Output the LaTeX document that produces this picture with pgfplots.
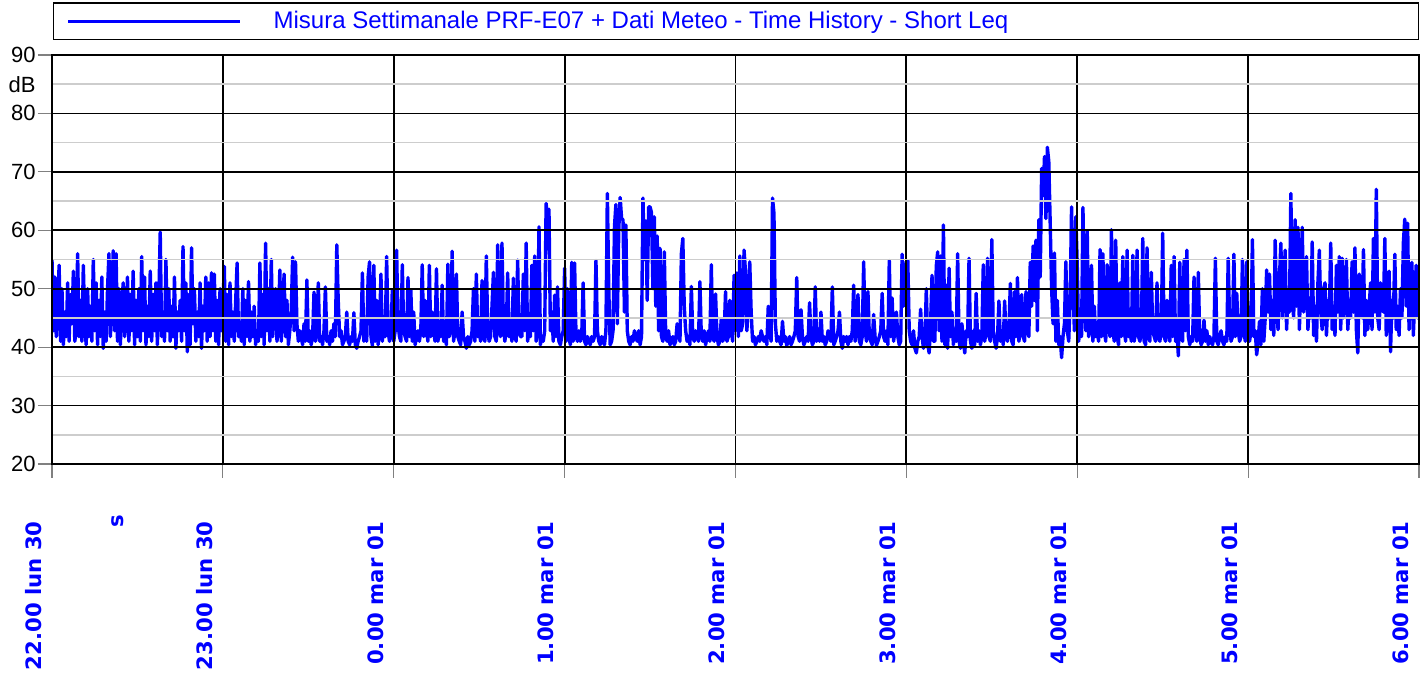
\documentclass[border=0pt]{standalone}
\usepackage{fontspec}
\setmainfont{Liberation Sans}
\newfontfamily\dvb{DejaVu Sans}
\usepackage{pgfplots}
\usepackage{pgfplotstable}
\pgfplotsset{compat=1.18}
\definecolor{rblue}{RGB}{0,0,255}
\definecolor{gridgray}{RGB}{205,205,205}

\pgfplotstableread[row sep=\\]{
y\\
55\\ 42.8\\ 52\\ 41.8\\ 47\\ 54\\ 41\\ 50\\ 40.4\\ 46\\
41.8\\ 51\\ 41\\ 49\\ 44\\ 53\\ 41\\ 42.8\\ 56\\ 41.8\\
48\\ 41\\ 54\\ 44\\ 40.4\\ 50\\ 41.8\\ 47\\ 41\\ 55\\
42.8\\ 51\\ 40.4\\ 48\\ 41.8\\ 52\\ 39.8\\ 46\\ 41\\ 50\\
56\\ 41.8\\ 48\\ 56.5\\ 42.8\\ 56\\ 41\\ 50\\ 40.4\\ 47\\
51\\ 41.8\\ 44\\ 52\\ 41\\ 49\\ 42.8\\ 53\\ 40.4\\ 48\\
41.8\\ 50\\ 41\\ 55.5\\ 42.8\\ 52\\ 40.4\\ 47\\ 41.8\\ 53\\
41\\ 49\\ 42.8\\ 51\\ 40.4\\ 48\\ 59.7\\ 41.8\\ 46\\ 41\\
55\\ 42.8\\ 50\\ 41\\ 47\\ 41.8\\ 52\\ 39.8\\ 46\\ 42.8\\
48\\ 41\\ 57.2\\ 42.8\\ 51\\ 39.2\\ 49\\ 40.4\\ 57\\ 44\\
50\\ 41\\ 46\\ 41.8\\ 51\\ 39.8\\ 47\\ 42.8\\ 52\\ 41\\
51\\ 41.8\\ 52.7\\ 42.8\\ 52.5\\ 41\\ 48\\ 40.4\\ 50\\ 42.8\\
47\\ 53.8\\ 41\\ 49\\ 40.4\\ 51\\ 41.8\\ 46\\ 41\\ 48\\
54.4\\ 41.8\\ 44\\ 41\\ 50\\ 40.4\\ 48\\ 41.8\\ 51.2\\ 41\\
46\\ 41.8\\ 47\\ 40.4\\ 42.8\\ 41\\ 54.4\\ 41.8\\ 49\\ 40.4\\
57.8\\ 42.8\\ 50\\ 41\\ 55\\ 41.8\\ 47\\ 50\\ 41\\ 44\\
53.2\\ 41\\ 47\\ 52.5\\ 41.8\\ 48\\ 40.4\\ 42.8\\ 46\\ 55.4\\
42.8\\ 54.6\\ 44\\ 41\\ 42.8\\ 41.8\\ 40.4\\ 44\\ 41\\ 51.5\\
41\\ 42.8\\ 40.4\\ 41.8\\ 49.4\\ 41\\ 42.8\\ 51\\ 41\\ 41.8\\
40.4\\ 42.8\\ 50.3\\ 41\\ 41.8\\ 40.4\\ 42.8\\ 41\\ 44\\ 41.8\\
57.5\\ 48\\ 41.8\\ 42.8\\ 40.4\\ 41\\ 41.8\\ 46\\ 41\\ 40.4\\
41.8\\ 41\\ 45.9\\ 40.4\\ 39.8\\ 41\\ 41.8\\ 42.8\\ 52.7\\ 41\\
44\\ 41\\ 52\\ 54.6\\ 41.8\\ 40.3\\ 54\\ 41\\ 48\\ 40.4\\
42.8\\ 52.5\\ 41\\ 44\\ 41.8\\ 55.5\\ 42.8\\ 41\\ 41.8\\ 49.8\\
41\\ 42.8\\ 56.6\\ 44\\ 41.8\\ 41\\ 54.1\\ 42.8\\ 41.8\\ 41\\
51.9\\ 41.8\\ 49.8\\ 41\\ 46\\ 40.4\\ 41.8\\ 42.8\\ 41\\ 42.8\\
54.1\\ 41.8\\ 48\\ 42.8\\ 41\\ 54\\ 41.8\\ 46\\ 42.8\\ 41\\
53.4\\ 41\\ 42.8\\ 41.8\\ 50.6\\ 41\\ 41.8\\ 40.4\\ 54.2\\ 41.8\\
42.8\\ 56.4\\ 41\\ 42.8\\ 52.5\\ 41.8\\ 41\\ 40.4\\ 46\\ 41.8\\
41\\ 39.8\\ 41.8\\ 40.4\\ 41\\ 42.8\\ 50\\ 41\\ 52.5\\ 41.8\\
42.8\\ 41\\ 51.4\\ 41.8\\ 41\\ 55.6\\ 42.8\\ 41\\ 41.8\\ 47\\
52.8\\ 41.8\\ 41\\ 57.5\\ 42.8\\ 41.8\\ 57.8\\ 44\\ 41\\ 42.8\\
52.7\\ 41.8\\ 42.8\\ 41\\ 51.8\\ 41.8\\ 41\\ 54.9\\ 42.8\\ 41.8\\
41.8\\ 52.5\\ 42.8\\ 57.8\\ 41\\ 42.8\\ 41.8\\ 54\\ 42.8\\ 55.6\\
41\\ 42.8\\ 60.6\\ 40.4\\ 41.8\\ 41\\ 42.8\\ 64.6\\ 62\\ 63.6\\
42.8\\ 46\\ 41\\ 48.9\\ 41.8\\ 50.3\\ 41\\ 40.4\\ 41.8\\ 42.8\\
53.5\\ 41\\ 50\\ 41.8\\ 40.4\\ 54.5\\ 41\\ 54.4\\ 41.8\\ 41\\
42.8\\ 41\\ 41.8\\ 51\\ 41\\ 40.4\\ 41.8\\ 41\\ 40.4\\ 41.8\\
41\\ 41.8\\ 54.8\\ 42.8\\ 41\\ 40.4\\ 41.8\\ 41\\ 40.4\\ 42.8\\
66.3\\ 50\\ 40.4\\ 41\\ 42.8\\ 60.6\\ 64.4\\ 44\\ 60\\ 65.6\\
62\\ 61.8\\ 46\\ 60.9\\ 42.8\\ 41\\ 40.4\\ 41.8\\ 41\\ 42.8\\
41.8\\ 41\\ 42.8\\ 40.4\\ 41.8\\ 65.5\\ 55\\ 61.6\\ 48\\ 64\\
64\\ 63\\ 50\\ 62.3\\ 47\\ 59\\ 42.8\\ 56.9\\ 41.8\\ 41\\
56.3\\ 41.8\\ 41\\ 42.8\\ 40.4\\ 41\\ 41.8\\ 40.4\\ 41\\ 44\\
42.8\\ 41\\ 56\\ 58.6\\ 47\\ 42.8\\ 41\\ 41.8\\ 40.4\\ 50.4\\
41.8\\ 41\\ 42.8\\ 41.8\\ 41\\ 51.2\\ 41.8\\ 41\\ 42.8\\ 40.4\\
41.8\\ 42.8\\ 41\\ 54.1\\ 41.8\\ 41\\ 49.1\\ 41.8\\ 40.4\\ 41\\
44.8\\ 41\\ 41.8\\ 49.5\\ 41\\ 41.8\\ 48\\ 42.8\\ 41\\ 52.3\\
42.8\\ 52.7\\ 41.8\\ 55.6\\ 42.8\\ 44\\ 56.6\\ 53\\ 42.8\\ 48\\
54.6\\ 45.9\\ 41\\ 41.8\\ 40.4\\ 41\\ 41.8\\ 41\\ 42.8\\ 41.8\\
41\\ 41.8\\ 40.4\\ 47\\ 42.8\\ 41\\ 65.5\\ 62.9\\ 44\\ 41\\
41.8\\ 41\\ 40.4\\ 44.4\\ 41\\ 41.8\\ 40.3\\ 41\\ 41.8\\ 40.4\\
41\\ 41.8\\ 42.8\\ 51.9\\ 41.8\\ 41\\ 46.4\\ 41.8\\ 40.4\\ 41\\
41.8\\ 41\\ 47.6\\ 41.8\\ 40.4\\ 41\\ 50.3\\ 41\\ 42.8\\ 41\\
46\\ 41\\ 41.8\\ 40.4\\ 41\\ 42.8\\ 41.8\\ 41\\ 50.3\\ 40.4\\
41\\ 41.8\\ 42.8\\ 46\\ 41\\ 39.8\\ 41.8\\ 41\\ 41.8\\ 40.4\\
41.8\\ 41\\ 42.8\\ 50.6\\ 41\\ 42.8\\ 49\\ 41\\ 40.4\\ 41.8\\
54.6\\ 42.8\\ 41\\ 49.5\\ 41.8\\ 41\\ 40.4\\ 45.6\\ 41.8\\ 40.3\\
41\\ 41.8\\ 42.8\\ 49.2\\ 41.8\\ 41\\ 42.8\\ 40.4\\ 54.8\\ 41.8\\
48.4\\ 41\\ 42.8\\ 46\\ 41.8\\ 40.4\\ 41\\ 55.9\\ 47\\ 53\\
54.6\\ 54.8\\ 42.8\\ 41\\ 40.4\\ 42.8\\ 39.8\\ 39\\ 41\\ 41.8\\
46.5\\ 41.8\\ 39.8\\ 41\\ 50\\ 40.4\\ 39\\ 44\\ 52.3\\ 41\\
41\\ 53.9\\ 56.3\\ 42.8\\ 55.6\\ 41\\ 60.9\\ 40.4\\ 50.6\\ 39.8\\
53.5\\ 41.8\\ 46\\ 40.4\\ 42.8\\ 41\\ 56\\ 41\\ 39.8\\ 44\\
41\\ 39\\ 42.8\\ 41.8\\ 55.2\\ 41\\ 39.8\\ 42.8\\ 40.4\\ 49.2\\
41\\ 42.8\\ 40.4\\ 41.8\\ 54.1\\ 41\\ 42.8\\ 55.2\\ 41.8\\ 41\\
58.4\\ 42.8\\ 41\\ 39.8\\ 41.8\\ 47.9\\ 41\\ 42.8\\ 40.4\\ 47.9\\
41.8\\ 41\\ 42.8\\ 50.9\\ 41\\ 40.4\\ 49.5\\ 41.8\\ 51.9\\ 41\\
42.8\\ 49\\ 41.8\\ 41\\ 49.5\\ 42.8\\ 41.8\\ 54.5\\ 47\\ 57.3\\
48\\ 58.3\\ 42.8\\ 61.8\\ 52\\ 70.6\\ 66\\ 72.6\\ 62\\ 74.2\\
71.8\\ 61.2\\ 50\\ 44\\ 56.1\\ 41\\ 48\\ 40.4\\ 41.8\\ 38.2\\
41.8\\ 44\\ 54.6\\ 42.8\\ 41\\ 48\\ 64\\ 50\\ 42.8\\ 62.3\\
54\\ 41\\ 44\\ 41.8\\ 63.9\\ 48\\ 42.8\\ 59.8\\ 41.8\\ 42.8\\
54\\ 41\\ 47\\ 41.8\\ 42.8\\ 41\\ 56.7\\ 41.8\\ 56\\ 42.8\\
41\\ 54.1\\ 44\\ 41.8\\ 60.1\\ 42.8\\ 41\\ 58.3\\ 41.8\\ 40.4\\
51\\ 41.8\\ 55.5\\ 42.8\\ 41\\ 56.6\\ 41.8\\ 42.8\\ 41\\ 55.7\\
41\\ 42.8\\ 56.6\\ 41.8\\ 41\\ 42.8\\ 58.6\\ 41\\ 40.4\\ 57\\
41.8\\ 41\\ 52.8\\ 42.8\\ 41.8\\ 41\\ 51\\ 41.8\\ 41\\ 42.8\\
59.5\\ 41.8\\ 41\\ 48\\ 42.8\\ 41\\ 54\\ 41.8\\ 55.5\\ 41\\
42.8\\ 38.5\\ 54.5\\ 41.8\\ 41\\ 55\\ 42.8\\ 56.6\\ 41.8\\ 40.4\\
41.8\\ 41\\ 52\\ 42.8\\ 41\\ 52.8\\ 41.8\\ 40.4\\ 41\\ 44.6\\
41\\ 42.8\\ 40.4\\ 41.8\\ 41\\ 40.4\\ 41.8\\ 55.2\\ 41\\ 40.4\\
41.8\\ 42.8\\ 41\\ 40.4\\ 41.8\\ 41\\ 55.2\\ 44\\ 41\\ 41.8\\
55.9\\ 41.8\\ 49.2\\ 42.8\\ 41\\ 41.8\\ 55\\ 42.8\\ 41\\ 54.6\\
41.8\\ 41\\ 42.8\\ 58.4\\ 41.8\\ 42.8\\ 38.7\\ 41\\ 44.4\\ 40.4\\
50\\ 41\\ 45\\ 53.2\\ 46\\ 52.5\\ 43\\ 48\\ 42\\ 58.3\\
47\\ 43\\ 52\\ 57.8\\ 45\\ 50\\ 56.6\\ 43\\ 49\\ 46\\
66.3\\ 48\\ 45\\ 61.8\\ 47\\ 60.5\\ 43\\ 52\\ 60.5\\ 46\\
50\\ 55.5\\ 43\\ 48\\ 45\\ 58\\ 42\\ 47\\ 41\\ 51\\
56.6\\ 46\\ 43\\ 50\\ 51\\ 42\\ 48\\ 45\\ 57.8\\ 43\\
47\\ 42\\ 54\\ 46\\ 55.5\\ 43\\ 55.2\\ 45\\ 48\\ 55\\
43\\ 48\\ 45\\ 54.6\\ 46\\ 57\\ 43\\ 39\\ 52.5\\ 46\\
45\\ 56.7\\ 42\\ 48\\ 43\\ 47\\ 51\\ 43\\ 58.6\\ 46\\
67\\ 45\\ 43\\ 51\\ 47\\ 46\\ 58.6\\ 42\\ 48\\ 53\\
39.2\\ 48\\ 45\\ 55.9\\ 43\\ 47\\ 42\\ 50\\ 45\\ 57.8\\
61.9\\ 47\\ 61.2\\ 43\\ 52\\ 54.5\\ 42\\ 48\\ 54\\ 45\\
50\\
}\shortleqdata

\begin{document}
\begin{tikzpicture}
\begin{axis}[
  scale only axis, width=683.5pt, height=204.5pt,
  xmin=0, xmax=480, ymin=20, ymax=90,
  axis on top,
  axis line style={black, line width=1pt},
  xtick={0,60,...,480},
  xticklabels={22.00 lun 30,23.00 lun 30,0.00 mar 01,1.00 mar 01,2.00 mar 01,3.00 mar 01,4.00 mar 01,5.00 mar 01,6.00 mar 01},
  ytick={20,30,...,90},
  yticklabels={20,30,40,50,60,70,80,90},
  minor ytick={25,35,...,85},
  extra y ticks={85}, extra y tick labels={dB},
  extra y tick style={grid=none, tick style={draw=none}},
  grid=both,
  major grid style={black, line width=0.9pt},
  minor grid style={gridgray, line width=0.8pt},
  tick align=outside, major tick length=7pt, minor tick length=0pt,
  tick style={gray, line width=0.6pt},
  xtick pos=lower, ytick pos=left,
  xticklabel shift=21.5pt,
  x tick label style={font=\dvb\bfseries\fontsize{10.6}{12}\selectfont, text=rblue, rotate=90, anchor=south east, inner xsep=0pt, inner ysep=5pt},
  y tick label style={font=\fontsize{11}{13}\selectfont, text=black, inner sep=1pt},
  legend style={at={(rel axis cs:0,1)}, anchor=south west, xshift=0.5pt, yshift=7.5pt,
    draw=black, line width=0.6pt, inner xsep=6.5pt, inner ysep=4pt,
    nodes={inner sep=0pt}, column sep=16pt,
    font=\fontsize{12}{14}\selectfont, text=rblue},
  legend image code/.code={\draw[rblue, line width=1.5pt] (0pt,0pt) -- (86pt,0pt);},
  legend cell align=left,
]
\addplot[rblue, line width=1.7pt, line join=round, mark=none] table[x expr=\coordindex/2, y=y]{\shortleqdata};
\addlegendentry{\makebox[566pt][l]{Misura Settimanale PRF-E07 + Dati Meteo - Time History - Short Leq}}
\coordinate (SW) at (rel axis cs:0,0);
\coordinate (NE) at (rel axis cs:1,1);
\end{axis}
\node[rotate=90, anchor=east, inner sep=0pt, font=\dvb\bfseries\fontsize{10.6}{12}\selectfont, text=rblue] at ([xshift=33pt,yshift=-25.5pt]SW) {s};
\pgfresetboundingbox
\path[use as bounding box] ([xshift=-26pt,yshift=-104.5pt]SW) rectangle ([xshift=4pt,yshift=27.5pt]NE);
\end{tikzpicture}
\end{document}
